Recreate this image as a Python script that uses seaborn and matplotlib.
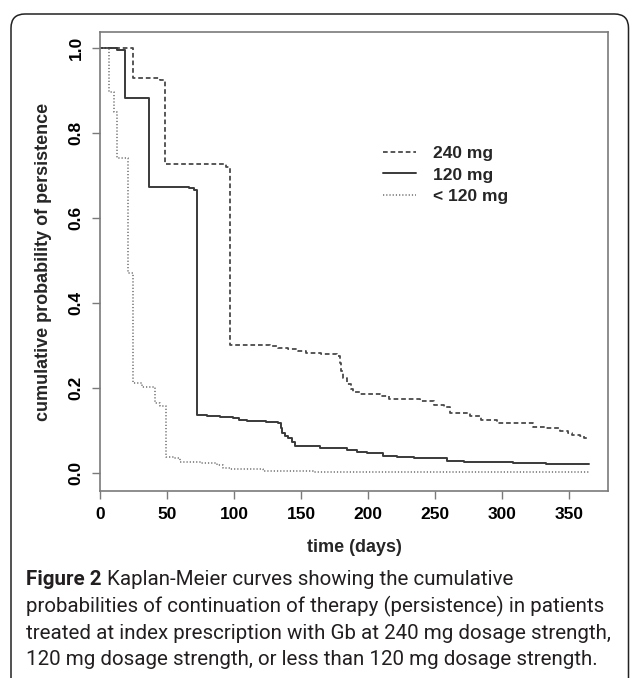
import numpy as np
import pandas as pd
import matplotlib
matplotlib.use("Agg")
import matplotlib.pyplot as plt
import seaborn as sns
from matplotlib.patches import FancyBboxPatch
from matplotlib.lines import Line2D

# ---------------- data ----------------
series_names = ["240 mg", "120 mg", "< 120 mg"]

days_240 = [0, 24.3, 45, 48.5, 94, 97, 127, 133, 140, 148, 154, 165, 177, 179, 180, 181,
            184, 187, 189, 194, 209, 216, 239, 249, 257, 261, 276, 284, 296, 323, 333,
            343, 349, 352, 358, 361, 365]
surv_240 = [1.0, 0.930, 0.925, 0.726, 0.720, 0.301, 0.298, 0.295, 0.292, 0.288, 0.283, 0.279,
            0.275, 0.260, 0.240, 0.223, 0.210, 0.198, 0.191, 0.186, 0.182, 0.173, 0.170,
            0.160, 0.155, 0.142, 0.134, 0.125, 0.117, 0.109, 0.105, 0.100, 0.095, 0.089,
            0.088, 0.082, 0.082]

days_120 = [0, 13, 18.7, 36.8, 66.5, 70, 72.6, 80, 89.5, 99, 104, 109.5, 124, 133, 135, 136,
            138, 140.5, 143, 145.5, 164, 184, 192, 199, 211, 222, 234, 259, 272, 284, 308,
            333, 365]
surv_120 = [1.0, 0.995, 0.883, 0.674, 0.671, 0.665, 0.136, 0.134, 0.1325, 0.1286, 0.125,
            0.122, 0.119, 0.118, 0.105, 0.095, 0.088, 0.082, 0.072, 0.0635, 0.0596, 0.054,
            0.050, 0.046, 0.040, 0.037, 0.0345, 0.029, 0.027, 0.026, 0.0235, 0.021, 0.0204]

days_lt120 = [0, 7, 10.4, 13, 21, 24.9, 31, 41, 45, 49.3, 55, 60, 75, 87, 92, 97, 121.6,
              159, 250, 365]
surv_lt120 = [1.0, 0.897, 0.850, 0.740, 0.470, 0.211, 0.2016, 0.164, 0.158, 0.038, 0.035,
              0.027, 0.0227, 0.019, 0.012, 0.0087, 0.0055, 0.0024, 0.0015, 0.001]

x_ticks = [0, 50, 100, 150, 200, 250, 300, 350]
y_ticks = [0.0, 0.2, 0.4, 0.6, 0.8, 1.0]
y_tick_labels = ["0.0", "0.2", "0.4", "0.6", "0.8", "1.0"]
x_label = "time (days)"
y_label = "cumulative probability of persistence"
caption_bold = "Figure 2"
caption_lines = [
    "Kaplan-Meier curves showing the cumulative",
    "probabilities of continuation of therapy (persistence) in patients",
    "treated at index prescription with Gb at 240 mg dosage strength,",
    "120 mg dosage strength, or less than 120 mg dosage strength.",
]

# ---------------- styling ----------------
sns.set_style("ticks")
plt.rcParams["font.family"] = ["Liberation Sans", "DejaVu Sans"]
plt.rcParams["font.weight"] = "bold"

W, H, DPI = 630, 678, 100
fig = plt.figure(figsize=(W / DPI, H / DPI), dpi=DPI)
fig.patch.set_facecolor("white")

# axes frame in pixels: left 100, right 608, top 32, bottom 491
L, R, T, B = 100, 608, 32, 491
ax = fig.add_axes([L / W, 1 - B / H, (R - L) / W, (B - T) / H])
ax.set_facecolor("white")

styles = {
    "240 mg": dict(color="#4a4a4a", linewidth=1.3, linestyle=(0, (2.6, 1.6))),
    "120 mg": dict(color="#3a3a3a", linewidth=1.4, linestyle="-"),
    "< 120 mg": dict(color="#6e6e6e", linewidth=1.1, linestyle=(0, (0.8, 1.3))),
}
data = {
    "240 mg": (days_240, surv_240),
    "120 mg": (days_120, surv_120),
    "< 120 mg": (days_lt120, surv_lt120),
}
for name in series_names:
    d, s = data[name]
    df = pd.DataFrame({"days": d, "surv": s})
    sns.lineplot(data=df, x="days", y="surv", ax=ax, estimator=None,
                 drawstyle="steps-post", legend=False, **styles[name])

ax.set_xlim(0, (R - L) / 1.34)
ax.set_ylim(-(B - 473) / 425, 1 + (48 - T) / 425)

frame_col = "#7a7a7a"
for sp in ax.spines.values():
    sp.set_visible(True)
    sp.set_color(frame_col)
    sp.set_linewidth(1.2)

ax.set_xticks(x_ticks)
ax.set_xticklabels([str(v) for v in x_ticks])
ax.set_yticks(y_ticks)
ax.set_yticklabels(y_tick_labels, rotation=90, va="center")
ax.tick_params(axis="both", direction="out", length=5.8, width=1.0, color=frame_col,
               labelsize=12.5, labelcolor="black")
ax.tick_params(axis="x", pad=6.0)
ax.tick_params(axis="y", pad=6.0)
for lab in ax.get_xticklabels() + ax.get_yticklabels():
    lab.set_fontweight("bold")

ax.set_xlabel(x_label, fontsize=13, fontweight="bold", va="center")
ax.xaxis.set_label_coords(0.5, -(547 - B) / (B - T))
ax.set_ylabel(y_label, fontsize=13, fontweight="bold", va="center")
ax.yaxis.set_label_coords(-(L - 44) / (R - L), 0.5)

handles = [Line2D([0], [0], **styles[n]) for n in series_names]
ax.legend(handles, series_names, loc="upper left",
          bbox_to_anchor=((383 - L) / (R - L), (B - 146) / (B - T)),
          frameon=False, borderpad=0, borderaxespad=0, handlelength=1.9,
          handletextpad=1.0, labelspacing=0.36,
          prop={"weight": "bold", "size": 12.5})

# ---------------- outer rounded border ----------------
border = FancyBboxPatch((11 / DPI, -0.5), (628.5 - 11) / DPI, (H - 14) / DPI + 0.5,
                        boxstyle="round,pad=0,rounding_size=0.14",
                        transform=fig.dpi_scale_trans, facecolor="none",
                        edgecolor="#222222", linewidth=1.1, clip_on=False)
fig.add_artist(border)

# ---------------- caption ----------------
cap_family = ["Roboto", "Lato", "DejaVu Sans"]
cap_col = "#231f20"
fig.canvas.draw()
renderer = fig.canvas.get_renderer()
probe = fig.text(0, 0, caption_lines[2], fontsize=10, family=cap_family,
                 fontweight="normal")
w10 = probe.get_window_extent(renderer).width
probe.remove()
cap_size = 10 * (584 / w10)

x0 = 26
baselines = [585, 612, 639, 665]


def fy(py):
    return 1 - py / H


bold_t = fig.text(x0 / W, fy(baselines[0]), caption_bold, fontsize=cap_size,
                  family=cap_family, fontweight="bold", color=cap_col, va="baseline")
fig.canvas.draw()
bw = bold_t.get_window_extent(renderer).width
fig.text((x0 + bw + 0.26 * cap_size * DPI / 72) / W, fy(baselines[0]), caption_lines[0],
         fontsize=cap_size, family=cap_family, fontweight="normal", color=cap_col,
         va="baseline")
for i in range(1, 4):
    fig.text(x0 / W, fy(baselines[i]), caption_lines[i], fontsize=cap_size,
             family=cap_family, fontweight="normal", color=cap_col, va="baseline")

fig.savefig("out.png", dpi=DPI, facecolor="white")
